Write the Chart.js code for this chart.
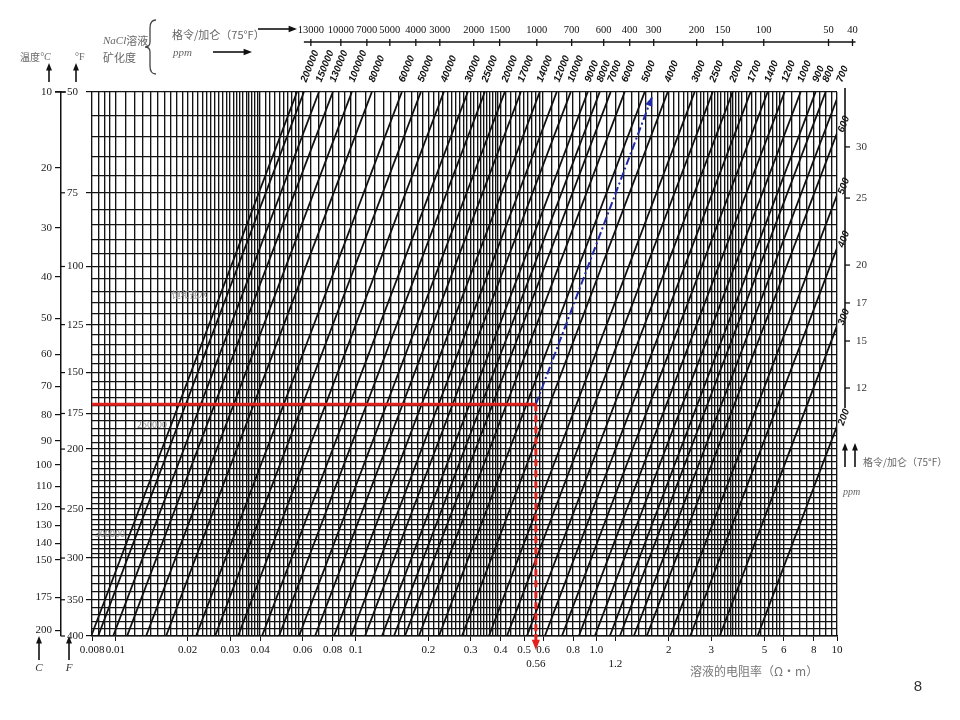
<!DOCTYPE html>
<html><head><meta charset="utf-8"><title>NaCl 溶液电阻率图版</title>
<script src="https://cdn.jsdelivr.net/npm/chart.js@4.4.1/dist/chart.umd.min.js"></script>
<style>html,body{margin:0;padding:0;background:#fff;overflow:hidden}canvas{display:block}</style>
</head><body>
<canvas id="chart" width="960" height="720"></canvas>
<script>
// ---------------- data ----------------
// bottom axis: solution resistivity (ohm·m)
const resistivityTicks = [0.008,0.01,0.02,0.03,0.04,0.06,0.08,0.1,0.2,0.3,0.4,0.5,0.56,0.6,0.8,1,1.2,2,3,5,6,8,10];
const resistivityLabels = ['0.008','0.01','0.02','0.03','0.04','0.06','0.08','0.1','0.2','0.3','0.4','0.5',['','0.56'],'0.6','0.8','1.0',['','1.2'],'2','3','5','6','8','10'];
// temperature axes
const tempFTicks = [50,75,100,125,150,175,200,250,300,350,400];
const tempCTicks = [10,20,30,40,50,60,70,80,90,100,110,120,130,140,150,175,200];
// NaCl salinity lines (ppm) – resistivity where each line meets the 50°F top edge
const ppmLabels = ['200000','150000','130000','100000','80000','60000','50000','40000','30000','25000','20000','17000','14000','12000','10000','9000','8000','7000','6000','5000','4000','3000','2500','2000','1700','1400','1200','1000','900','800','700'];
const lineR50 = [0.0608,0.0702,0.0802,0.0962,0.1165,0.1553,0.1862,0.232,0.2918,0.3434,0.4158,0.4847,0.5812,0.6838,0.7818,0.92,1.032,1.146,1.31,1.587,1.978,2.56,3.042,3.682,4.374,5.148,6.056,7.058,8.146,8.966,10.25];
const saturatedR50 = 0.0569;
// lines leaving through the right edge
const rightPpmLabels = ['600','500','400','300','200'];
const rightPpmR50 = [11.6,14.52,17.59,23.32,33.5];
// grains/gallon scales
const grainTopLabels = ['13000','10000','7000','5000','4000','3000','2000','1500','1000','700','600','400','300','200','150','100','50','40'];
const grainTopR50 = [0.065,0.0866,0.1111,0.1384,0.1775,0.2233,0.309,0.396,0.565,0.789,1.072,1.375,1.73,2.61,3.35,4.96,9.22,11.6];
const grainRightLabels = ['30','25','20','17','15','12'];
const grainRightR50 = [12.2,14.68,18.71,21.46,24.63,29.2];
// grey notes along the saturation line: text, resistivity, °F
const noteTexts = ['饱和盐水','250000','300000'];
const noteR = [0.0204,0.0142,0.0095];
const noteTF = [111.6,182.7,273.5];
// worked example
const exampleR = 0.56;
const exampleTempF = 169;
const blueEndTF = 51;
// grid spacing segments [from, to, step]
const gridRSegments = [[0.008,0.01,0.0005],[0.01,0.04,0.001],[0.04,0.06,0.002],[0.06,0.1,0.005],[0.1,0.4,0.01],[0.4,0.6,0.02],[0.6,1,0.05],[1,4,0.1],[4,6,0.2],[6,10,0.5]];
const gridTempSegments = [[50,300,5],[300,400,10]];

// ---------------- helpers ----------------
const ARPS = 6.77;                 // Arps constant (°F)
const T_TOP = 50, T_BOT = 400;
const uF = t => Math.log10(t + ARPS);
const uC = c => uF(c * 1.8 + 32);
const rAlong = (r0, t0, t) => r0 * (t0 + ARPS) / (t + ARPS);
function stepsFrom(segments) {
  const out = [];
  segments.forEach(([a, b, s]) => {
    const n = Math.round((b - a) / s);
    for (let k = 0; k <= n; k++) {
      const v = +(a + k * s).toFixed(6);
      if (!out.length || Math.abs(out[out.length - 1] - v) > 1e-9) out.push(v);
    }
  });
  return out;
}
const gridR = stepsFrom(gridRSegments);
const gridT = stepsFrom(gridTempSegments);

const RED = '#e3211c', BLUE = '#1f2aa8', INK = '#111';
const serif = "'Liberation Serif', 'Times New Roman', serif";
const cjk = "'Noto Sans CJK SC', sans-serif";
Chart.defaults.font.family = serif;
Chart.defaults.color = INK;

// ---------------- datasets ----------------
const datasets = [];
datasets.push({ order: 0, showLine: true, pointRadius: 0, borderColor: RED, borderWidth: 3,
  data: [{ x: 0.008, y: uF(exampleTempF) }, { x: exampleR, y: uF(exampleTempF) }] });
datasets.push({ order: 0, showLine: true, pointRadius: 0, borderColor: RED, borderWidth: 3, borderDash: [7, 4],
  data: [{ x: exampleR, y: uF(exampleTempF) }, { x: exampleR, y: uF(T_BOT) }] });
datasets.push({ order: 0, showLine: true, pointRadius: 0, borderColor: BLUE, borderWidth: 2, borderDash: [8, 3, 2, 3],
  data: [{ x: exampleR, y: uF(exampleTempF) }, { x: rAlong(exampleR, exampleTempF, blueEndTF), y: uF(blueEndTF) }] });
[saturatedR50, ...lineR50, ...rightPpmR50].forEach(r => {
  datasets.push({ order: 1, showLine: true, pointRadius: 0, borderColor: INK, borderWidth: 1.8,
    data: [{ x: r, y: uF(T_TOP) }, { x: rAlong(r, T_TOP, T_BOT), y: uF(T_BOT) }] });
});

// ---------------- decoration plugin ----------------
const decor = {
  id: 'decor',
  afterDraw(chart) {
    const { ctx, chartArea: ca, scales } = chart;
    const sx = scales.x, sy = scales.y;
    const seg = (x1, y1, x2, y2, w, c) => { ctx.beginPath(); ctx.moveTo(x1, y1); ctx.lineTo(x2, y2); ctx.lineWidth = w; ctx.strokeStyle = c; ctx.stroke(); };
    const head = (x1, y1, x2, y2, size, c) => {
      const a = Math.atan2(y2 - y1, x2 - x1);
      ctx.beginPath(); ctx.moveTo(x2, y2);
      ctx.lineTo(x2 - size * Math.cos(a - 0.38), y2 - size * Math.sin(a - 0.38));
      ctx.lineTo(x2 - size * Math.cos(a + 0.38), y2 - size * Math.sin(a + 0.38));
      ctx.closePath(); ctx.fillStyle = c; ctx.fill();
    };
    const text = (s, x, y, font, c, align = 'left', base = 'middle') => {
      ctx.font = font; ctx.fillStyle = c; ctx.textAlign = align; ctx.textBaseline = base; ctx.fillText(s, x, y);
    };
    const upArrow = (x, y1, y2, c) => { seg(x, y1, x, y2 + 6, 1.6, c); head(x, y1, x, y2, 8, c); };
    ctx.save();
    ctx.setLineDash([]);

    // small dashes of the °F scale next to the °C axis line
    const cLine = scales.yC.right;
    tempFTicks.forEach(t => { const py = sy.getPixelForValue(uF(t)); seg(cLine, py, cLine + 4, py, 1.2, INK); });
    seg(cLine - 6, ca.top, cLine + 5, ca.top, 1.4, INK);

    // worked example arrow heads
    const ex = sx.getPixelForValue(exampleR), ey = sy.getPixelForValue(uF(exampleTempF));
    seg(ex, ca.bottom - 2, ex, ca.bottom + 5, 3, RED);
    head(ex, ca.bottom, ex, ca.bottom + 14, 11, RED);
    const bx = sx.getPixelForValue(rAlong(exampleR, exampleTempF, blueEndTF)), by = sy.getPixelForValue(uF(blueEndTF));
    head(ex, ey, bx, by, 10, BLUE);

    // top grains/gallon scale
    const gy = ca.top - 50;
    const gxs = grainTopR50.map(r => sx.getPixelForValue(r));
    seg(gxs[0] - 7, gy, gxs[gxs.length - 1] + 3, gy, 1.6, INK);
    gxs.forEach((px, i) => { seg(px, gy - 3, px, gy + 4, 1.3, INK); text(grainTopLabels[i], px, gy - 12, '10.5px ' + serif, INK, 'center'); });
    seg(258, gy - 13, 290, gy - 13, 1.6, INK); head(258, gy - 13, 297, gy - 13, 9, INK);
    seg(213, gy + 10, 245, gy + 10, 1.6, INK); head(213, gy + 10, 252, gy + 10, 9, INK);

    // right grains/gallon scale
    const exitU = r => Math.log10(r * (T_TOP + ARPS) / sx.max);
    const rx = ca.right + 8;
    const rys = grainRightR50.map(r => sy.getPixelForValue(exitU(r)));
    seg(rx, ca.top - 4, rx, rys[rys.length - 1] + 20, 1.6, INK);
    rys.forEach((py, i) => { seg(rx, py, rx + 5, py, 1.3, INK); text(grainRightLabels[i], rx + 11, py, '11px ' + serif, '#333'); });

    // right ppm labels (lines leaving through the right edge)
    rightPpmR50.forEach((r, i) => {
      const py = sy.getPixelForValue(exitU(r));
      ctx.save(); ctx.translate(ca.right + 4, py - 1); ctx.rotate(-70 * Math.PI / 180);
      text(rightPpmLabels[i], 0, 0, "italic bold 10px 'Liberation Sans', sans-serif", INK, 'left', 'middle');
      ctx.restore();
    });

    // grey notes along the saturation line
    noteTexts.forEach((s, i) => {
      text(s, sx.getPixelForValue(noteR[i]), sy.getPixelForValue(uF(noteTF[i])), '9px ' + cjk, '#8a8a8a', 'center');
    });

    // header (top-left)
    text('NaCl', 103, 41, 'italic 11px ' + serif, '#666');
    ctx.font = 'italic 11px ' + serif; const wN = ctx.measureText('NaCl').width;
    text('溶液', 103 + wN, 41, '11px ' + cjk, '#666');
    text('矿化度', 103, 58, '11px ' + cjk, '#666');
    ctx.beginPath();
    ctx.moveTo(156, 20); ctx.quadraticCurveTo(150, 20, 150, 28); ctx.lineTo(150, 42);
    ctx.quadraticCurveTo(150, 47, 145, 47); ctx.quadraticCurveTo(150, 47, 150, 52);
    ctx.lineTo(150, 66); ctx.quadraticCurveTo(150, 74, 156, 74);
    ctx.lineWidth = 1.3; ctx.strokeStyle = '#444'; ctx.stroke();
    text('格令/加仑（75°F）', 172, 35, '11px ' + cjk, '#666');
    text('ppm', 173, 53, 'italic 11px ' + serif, '#666');

    // temperature axis titles
    text('温度', 20, 57, '10px ' + cjk, '#666');
    ctx.font = '10px ' + cjk; const wT = ctx.measureText('温度').width;
    text('°C', 20 + wT, 57, 'italic 10px ' + serif, '#666');
    text('°F', 75, 57, '10px ' + serif, '#666');
    upArrow(49, 82, 63, INK);
    upArrow(76, 82, 63, INK);
    upArrow(39, 660, 636, INK);
    upArrow(69, 660, 636, INK);
    text('C', 39, 668, 'italic 11px ' + serif, '#333', 'center');
    text('F', 69, 668, 'italic 11px ' + serif, '#333', 'center');

    // right-side legend
    upArrow(845, 467, 443, INK);
    upArrow(855, 467, 443, INK);
    text('格令/加仑（75°F）', 863, 462, '10px ' + cjk, '#666');
    text('ppm', 843, 492, 'italic 10px ' + serif, '#666');

    // bottom axis title
    text('溶液的电阻率（Ω•m）', 690, 671, '12px ' + cjk, '#777');

    // page number
    text('8', 918, 687, "15px 'Liberation Sans', sans-serif", '#333', 'center');
    ctx.restore();
  }
};

// ---------------- chart ----------------
const yCommon = { type: 'linear', reverse: true, min: uF(T_TOP), max: uF(T_BOT), bounds: 'data' };
const logCommon = { type: 'logarithmic', min: 0.008, max: 10, bounds: 'data' };

new Chart(document.getElementById('chart'), {
  type: 'scatter',
  data: { datasets },
  options: {
    responsive: false,
    animation: false,
    layout: { padding: { left: 0, right: 123, top: 42, bottom: 44 } },
    plugins: { legend: { display: false }, tooltip: { enabled: false } },
    scales: {
      x: { ...logCommon, position: 'bottom', weight: 1,
        afterBuildTicks: s => { s.ticks = resistivityTicks.map(v => ({ value: v })); },
        afterFit: s => { s.height = 40; },
        ticks: { autoSkip: false, minRotation: 0, maxRotation: 0, padding: 3, font: { size: 11 }, color: INK,
          callback: (v, i) => resistivityLabels[i] },
        grid: { display: true, drawOnChartArea: false, drawTicks: true, tickLength: 5, color: INK, lineWidth: 1 },
        border: { display: true, color: INK, width: 1.5 } },
      xGrid: { ...logCommon, position: 'bottom', weight: 0,
        afterBuildTicks: s => { s.ticks = gridR.map(v => ({ value: v })); },
        afterFit: s => { s.height = 0; },
        ticks: { display: false, autoSkip: false },
        grid: { display: true, drawOnChartArea: true, drawTicks: false, tickLength: 0, color: '#141414', lineWidth: 1.35 },
        border: { display: false } },
      xPpm: { ...logCommon, position: 'top', weight: 0,
        afterBuildTicks: s => { s.ticks = lineR50.map(v => ({ value: v })); },
        afterFit: s => { s.height = 50; },
        ticks: { autoSkip: false, minRotation: 68, maxRotation: 68, padding: 8, labelOffset: 11, color: INK,
          font: { family: "'Liberation Sans', sans-serif", size: 10, weight: 'bold', style: 'italic' },
          callback: (v, i) => ppmLabels[i] },
        grid: { display: false, drawTicks: false, tickLength: 0 },
        border: { display: false } },
      y: { ...yCommon, position: 'left', weight: 0,
        afterBuildTicks: s => { s.ticks = tempFTicks.map(t => ({ value: uF(t) })); },
        afterFit: s => { s.width = 25; },
        ticks: { autoSkip: false, crossAlign: 'far', padding: 2, font: { size: 11 }, color: '#222',
          callback: (v, i) => String(tempFTicks[i]) },
        grid: { display: true, drawOnChartArea: false, drawTicks: true, tickLength: 6, color: INK, lineWidth: 1.2 },
        border: { display: false } },
      yGrid: { ...yCommon, position: 'left', weight: 1,
        afterBuildTicks: s => { s.ticks = gridT.map(t => ({ value: uF(t) })); },
        afterFit: s => { s.width = 6; },
        ticks: { display: false, autoSkip: false },
        grid: { display: true, drawOnChartArea: true, drawTicks: false, tickLength: 0, color: '#141414', lineWidth: 1.35 },
        border: { display: false } },
      yC: { ...yCommon, position: 'left', weight: 2,
        afterBuildTicks: s => { s.ticks = tempCTicks.map(c => ({ value: uC(c) })); },
        afterFit: s => { s.width = 61; },
        ticks: { autoSkip: false, padding: 3, font: { size: 11 }, color: '#222',
          callback: (v, i) => String(tempCTicks[i]) },
        grid: { display: true, drawOnChartArea: false, drawTicks: true, tickLength: 6, color: INK, lineWidth: 1.2 },
        border: { display: true, color: INK, width: 1.5 } }
    }
  },
  plugins: [decor]
});
</script>
</body></html>
